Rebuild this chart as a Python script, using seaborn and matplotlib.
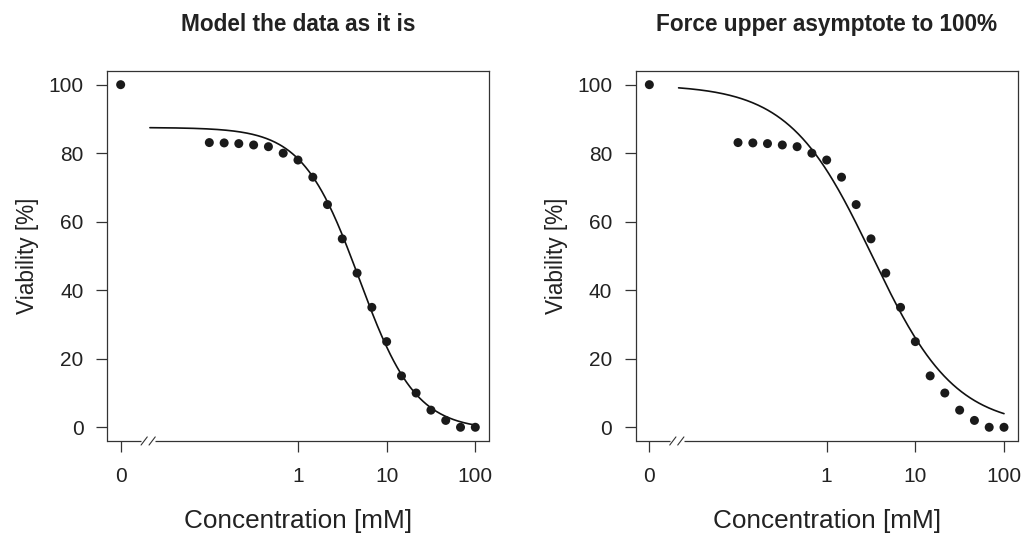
import numpy as np
import pandas as pd
import matplotlib
matplotlib.use("Agg")
import matplotlib.pyplot as plt
import seaborn as sns

# ---------------- data ----------------
conc = [0, 0.1, 0.147, 0.215, 0.316, 0.464, 0.681, 1.0, 1.47, 2.15, 3.16,
        4.64, 6.81, 10.0, 14.7, 21.5, 31.6, 46.4, 68.1, 100.0]
viability = [100, 83.1, 83.0, 82.8, 82.4, 81.9, 80, 78, 73, 65, 55,
             45, 35, 25, 15, 10, 5, 2, 0, 0]

titles = ["Model the data as it is", "Force upper asymptote to 100%"]
x_tick_values = [0, 1, 10, 100]
x_tick_labels = ["0", "1", "10", "100"]
y_tick_values = [0, 20, 40, 60, 80, 100]

# fitted log-logistic parameters (b, c, d, e)
fit_free = dict(b=1.36, c=-0.8, d=87.5, e=4.9)
fit_fixed = dict(b=0.93, c=0.0, d=100.0, e=3.26)

# ---------------- style ----------------
sns.set_theme(style="white")
plt.rcParams["font.family"] = ["Liberation Sans", "DejaVu Sans"]
TXT = "#222222"
AX = "#333333"
ZERO_POS = 0.01          # where the dose 0 is drawn on the log axis
BREAK_LOG = -1.69        # axis break centre (log10)
CURVE_START_LOG = -1.67

def ll4(x, b, c, d, e):
    return c + (d - c) / (1.0 + np.exp(b * (np.log(x) - np.log(e))))

df = pd.DataFrame({"conc": conc, "viability": viability})
df["xpos"] = df["conc"].where(df["conc"] > 0, ZERO_POS)

fig = plt.figure(figsize=(10.24, 5.34), dpi=100)
axes = [fig.add_axes([0.1045, 0.1742, 0.373, 0.6929]),
        fig.add_axes([0.6208, 0.1742, 0.373, 0.6929])]

for ax, title, pars in zip(axes, titles, [fit_free, fit_fixed]):
    xs = np.logspace(CURVE_START_LOG, 2, 300)
    curve = pd.DataFrame({"x": xs, "y": ll4(xs, **pars)})
    sns.lineplot(data=curve, x="x", y="y", ax=ax, color="#111111",
                 linewidth=1.2, estimator=None, sort=False)
    sns.scatterplot(data=df, x="xpos", y="viability", ax=ax, color="#1a1a1a",
                    s=42, edgecolor="none", zorder=3)
    ax.set_xscale("log")
    ax.set_xlim(10 ** -2.154, 10 ** 2.154)
    ax.set_ylim(-4, 104)
    ax.set_xticks([v if v > 0 else ZERO_POS for v in x_tick_values])
    ax.set_xticklabels(x_tick_labels)
    ax.xaxis.set_minor_locator(matplotlib.ticker.NullLocator())
    ax.set_yticks(y_tick_values)
    ax.set_yticklabels([str(v) for v in y_tick_values])
    ax.tick_params(axis="both", which="major", direction="out", length=8,
                   width=0.9, color=AX, labelsize=15, labelcolor=TXT,
                   bottom=True, left=True)
    ax.tick_params(axis="x", pad=11)
    ax.tick_params(axis="y", pad=9)
    for s in ["left", "top", "right"]:
        ax.spines[s].set_color(AX)
        ax.spines[s].set_linewidth(0.9)
    ax.spines["bottom"].set_visible(False)
    # bottom frame with axis break
    tr = ax.get_xaxis_transform()
    lo = 10 ** (BREAK_LOG - 0.08)
    hi = 10 ** (BREAK_LOG + 0.08)
    ax.plot([10 ** -2.154, lo], [0, 0], transform=tr, color=AX, lw=0.9,
            clip_on=False, solid_capstyle="butt")
    ax.plot([hi, 10 ** 2.154], [0, 0], transform=tr, color=AX, lw=0.9,
            clip_on=False, solid_capstyle="butt")
    for c0 in [BREAK_LOG - 0.045, BREAK_LOG + 0.045]:
        ax.plot([10 ** (c0 - 0.035), 10 ** (c0 + 0.035)], [-0.011, 0.011],
                transform=tr, color=AX, lw=0.8, clip_on=False)
    ax.set_xlabel("Concentration [mM]", fontsize=18.8, color=TXT)
    ax.set_ylabel("Viability [%]", fontsize=16.3, color=TXT)
    ax.xaxis.set_label_coords(0.5, -0.183)
    ax.yaxis.set_label_coords(-0.178, 0.5)
    ax.set_title(title, fontsize=16.3, fontweight="bold", color=TXT, pad=29)

fig.savefig("out.png", dpi=100)
